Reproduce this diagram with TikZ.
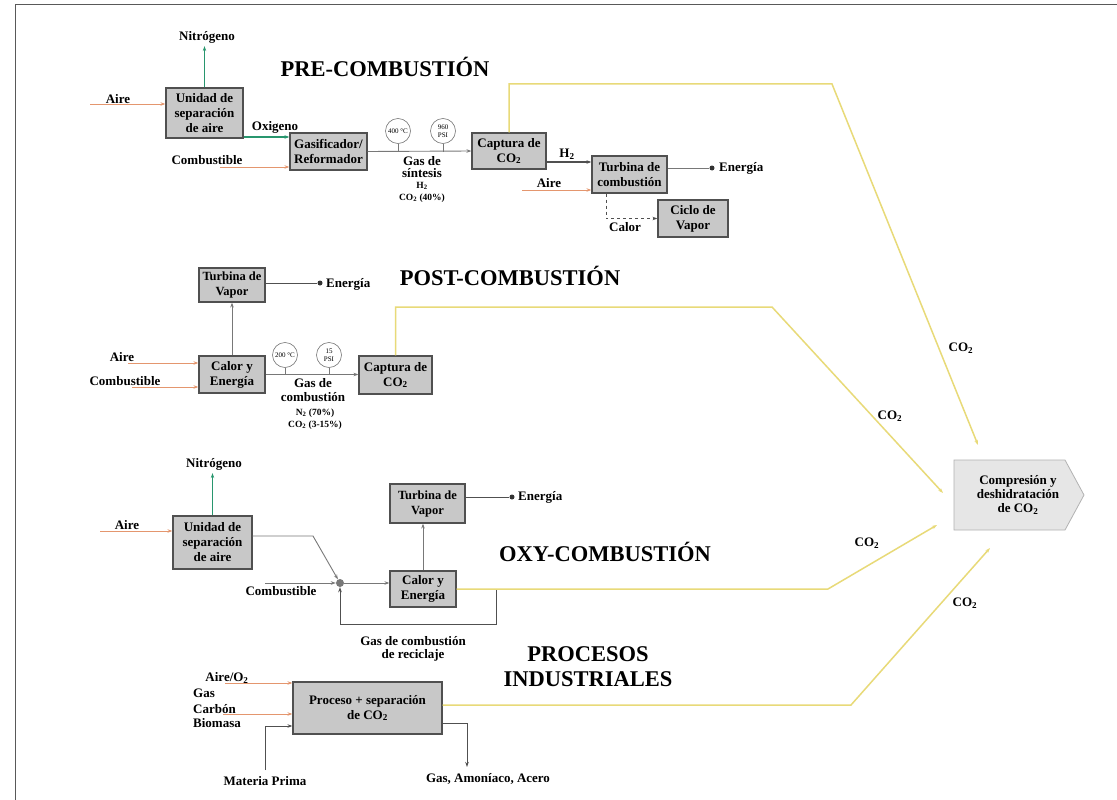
\documentclass[tikz,border=0pt]{standalone}
\usepackage{fontspec}
\setmainfont{Liberation Serif}
\usetikzlibrary{arrows.meta,calc}
\definecolor{boxfill}{RGB}{200,200,200}
\definecolor{boxline}{RGB}{80,80,80}
\definecolor{orng}{RGB}{228,150,110}
\definecolor{grn}{RGB}{40,150,110}
\definecolor{ylw}{RGB}{232,218,120}
\definecolor{gline}{RGB}{120,120,120}
\definecolor{compfill}{RGB}{230,230,230}
\newcommand{\cotwo}{CO\textsubscript{2}}
\begin{document}
\begin{tikzpicture}[x=1pt,y=-1pt,
  fs/.style={font=\fontsize{13}{15}\selectfont\bfseries},
  lbl/.style={fs, inner sep=0pt},
  small/.style={font=\fontsize{9.5}{10}\selectfont\bfseries, inner sep=0pt},
  title/.style={font=\fontsize{22.5}{25}\selectfont\bfseries, inner sep=0pt, align=center},
  pbox/.style={draw=boxline, fill=boxfill, line width=1.2pt, font=\fontsize{13}{15}\selectfont\bfseries, align=center, inner sep=0pt},
  tvbox/.style={pbox, font=\fontsize{12.5}{15}\selectfont\bfseries},
  gauge/.style={circle, draw=gline, fill=white, line width=0.6pt, minimum size=25pt, inner sep=0pt, font=\fontsize{7}{7.5}\selectfont, align=center},
  tip/.style={-{Stealth[length=5pt,width=3.5pt]}},
  orl/.style={draw=orng, line width=1pt, tip},
  grl/.style={draw=grn, line width=1.2pt, tip},
  gyl/.style={draw=gline, line width=0.9pt},
  dkl/.style={draw=boxline, line width=1pt},
  yel/.style={draw=ylw, line width=1.5pt},
  dotn/.style={circle, fill=black!80, inner sep=0pt, minimum size=5pt},
]
\useasboundingbox (0,0) rectangle (1117,800);
\fill[white] (0,0) rectangle (1117,800);
\draw[gray!70!black, line width=1pt] (15,800) -- (15,5) -- (1117,5);

% ---------------- PRE-COMBUSTION ----------------
\node[title] at (385,67) {PRE-COMBUSTIÓN};
\node[pbox, minimum width=77pt, minimum height=50pt] (usa1) at (204.5,113) {Unidad de\\separación\\de aire};
\node[pbox, minimum width=77pt, minimum height=37pt] (gas) at (328.5,151.5) {Gasificador/\\Reformador};
\node[pbox, minimum width=74pt, minimum height=36pt] (cap1) at (509,151) {Captura de\\\cotwo};
\node[pbox, minimum width=75pt, minimum height=37pt] (tc) at (629.5,174.5) {Turbina de\\combustión};
\node[pbox, minimum width=70pt, minimum height=37pt] (ciclo) at (693,218.5) {Ciclo de\\Vapor};

\node[lbl] (nit1) at (207,37) {Nitrógeno};
\draw[grl, shorten >=3pt] (usa1.north) -- (usa1.north |- nit1.south);
\coordinate (a1) at (90,104);
\node[lbl] at (118,99) {Aire};
\draw[orl] (a1) -- (a1 -| usa1.west);
\node[lbl] at (275,127) {Oxigeno};
\draw[grl] (usa1.east |- 0,137) -- (gas.west |- 0,137);
\coordinate (c1) at (220,167);
\node[lbl] at (207,160) {Combustible};
\draw[orl] (c1) -- (c1 -| gas.west);
\draw[gyl, tip] (gas.east) -- (cap1.west);
\node[gauge] (g1) at (398,131) {400 °C};
\node[gauge] (g2) at (443,131) {960\\PSI};
\draw[gyl] (g1.south) -- (g1.south |- gas.east);
\draw[gyl] (g2.south) -- (g2.south |- gas.east);
\node[lbl] at (422,161) {Gas de};
\node[lbl] at (422,173) {síntesis};
\node[small] at (422,186) {H\textsubscript{2}};
\node[small] at (422,198) {\cotwo\ (40\%)};
\coordinate (t1) at (978,445);
\draw[yel, tip] (cap1.north) -- (cap1.north |- 0,84) -- (832,84) -- (t1);
\node[lbl] at (567,154) {H\textsubscript{2}};
\draw[dkl, line width=1.5pt, tip] (cap1.east |- 0,162) -- (tc.west |- 0,162);
\node[dotn] (e1) at (712,168) {};
\node[lbl, anchor=west] at (719,168) {Energía};
\draw[gyl] (tc.east |- e1) -- (e1);
\coordinate (a2) at (522,190);
\node[lbl] at (549,183) {Aire};
\draw[orl] (a2) -- (a2 -| tc.west);
\draw[dkl, dashed, tip] (tc.south -| 606,0) |- (ciclo.west);
\node[lbl] at (625,227) {Calor};

% ---------------- POST-COMBUSTION ----------------
\node[title] at (510,276) {POST-COMBUSTIÓN};
\node[tvbox, minimum width=66pt, minimum height=34pt] (tv1) at (232,285) {Turbina de\\Vapor};
\node[pbox, minimum width=66pt, minimum height=37pt] (ce1) at (232,374.5) {Calor y\\Energía};
\node[pbox, minimum width=73pt, minimum height=38pt] (cap2) at (395.5,375) {Captura de\\\cotwo};
\node[dotn] (e2) at (320,283) {};
\node[lbl, anchor=west] at (326,284) {Energía};
\draw[dkl] (tv1.east |- e2) -- (e2);
\draw[gyl, tip] (ce1.north) -- (tv1.south);
\coordinate (a3) at (128,363);
\node[lbl] at (122,357) {Aire};
\draw[orl] (a3) -- (a3 -| ce1.west);
\coordinate (c3) at (132,387);
\node[lbl] at (125,381) {Combustible};
\draw[orl] (c3) -- (c3 -| ce1.west);
\draw[gyl, tip] (ce1.east) -- (ce1.east -| cap2.west);
\node[gauge] (g3) at (285,355) {200 °C};
\node[gauge] (g4) at (329,355) {15\\PSI};
\draw[gyl] (g3.south) -- (g3.south |- ce1.east);
\draw[gyl] (g4.south) -- (g4.south |- ce1.east);
\node[lbl] at (313,383) {Gas de};
\node[lbl] at (313,397) {combustión};
\node[small] at (315,413) {N\textsubscript{2} (70\%)};
\node[small] at (315,425) {\cotwo\ (3-15\%)};
\coordinate (t2) at (943,493);
\draw[yel, tip] (cap2.north) -- (cap2.north |- 0,307) -- (772,307) -- (t2);

% ---------------- OXY-COMBUSTION ----------------
\node[title] at (605,552) {OXY-COMBUSTIÓN};
\node[pbox, minimum width=79pt, minimum height=53pt] (usa2) at (212.5,542.5) {Unidad de\\separación\\de aire};
\node[tvbox, minimum width=75pt, minimum height=39pt] (tv2) at (427.5,503.5) {Turbina de\\Vapor};
\node[pbox, minimum width=66pt, minimum height=36pt] (ce2) at (423,589) {Calor y\\Energía};
\node[circle, fill=gline, inner sep=0pt, minimum size=8pt] (mix) at (340,583) {};
\node[lbl] (nit2) at (214,464) {Nitrógeno};
\draw[grl, shorten >=3pt] (usa2.north) -- (usa2.north |- nit2.south);
\coordinate (a4) at (100,531);
\node[lbl] at (127,525) {Aire};
\draw[orl] (a4) -- (a4 -| usa2.west);
\draw[gyl, tip] (usa2.east |- 0,536) -- (313,536) -- (mix);
\coordinate (c4) at (265,583);
\node[lbl] at (281,591) {Combustible};
\draw[gyl, tip] (c4) -- (mix);
\draw[gyl, tip] (mix) -- (ce2.west |- mix);
\draw[dkl, tip] (ce2.east -| 496,0) -- (496,624) -| (mix.south);
\node[lbl] at (413,641) {Gas de combustión};
\node[lbl] at (413,655) {de reciclaje};
\node[dotn] (e3) at (512,497) {};
\node[lbl, anchor=west] at (518,497) {Energía};
\draw[dkl] (tv2.east |- e3) -- (e3);
\draw[gyl, tip] (ce2.north) -- (ce2.north |- tv2.south);
\coordinate (t3) at (937,525);
\draw[yel, tip] (ce2.east) -- (828,589) -- (t3);

% ---------------- PROCESOS INDUSTRIALES ----------------
\node[title] at (588,667) {PROCESOS\\INDUSTRIALES};
\node[pbox, minimum width=149pt, minimum height=52pt] (proc) at (367.5,708) {Proceso + separación\\de \cotwo};
\node[lbl] at (227,678) {Aire/O\textsubscript{2}};
\coordinate (a5) at (225,683);
\draw[orl] (a5) -- (a5 -| proc.west);
\node[lbl, anchor=west] at (193,693) {Gas};
\node[lbl, anchor=west] at (193,709) {Carbón};
\node[lbl, anchor=west] at (193,723) {Biomasa};
\coordinate (c5) at (223,714);
\draw[orl] (c5) -- (c5 -| proc.west);
\coordinate (mp) at (265,770);
\draw[dkl, tip] (mp) |- (proc.west |- 0,726);
\node[lbl] at (265,781) {Materia Prima};
\coordinate (out) at (467,767);
\draw[dkl, tip] (proc.east |- 0,723) -| (out);
\node[lbl] at (488,779) {Gas, Amoníaco, Acero};
\coordinate (t4) at (990,548);
\draw[yel, tip] (proc.east |- 0,705) -- (851,705) -- (t4);

% ---------------- COMPRESSION ----------------
\draw[draw=gray!60, fill=compfill, line width=0.8pt] (954,460) -- (1065,460) -- (1084,495) -- (1065,530) -- (954,530) -- cycle;
\node[font=\fontsize{13}{14}\selectfont\bfseries, align=center, inner sep=0pt] (comp) at (1018,495) {Compresión y\\deshidratación\\de \cotwo};
\node[lbl] at (961,348) {\cotwo};
\node[lbl] at (890,416) {\cotwo};
\node[lbl] at (867,543) {\cotwo};
\node[lbl] at (965,603) {\cotwo};
\end{tikzpicture}
\end{document}
